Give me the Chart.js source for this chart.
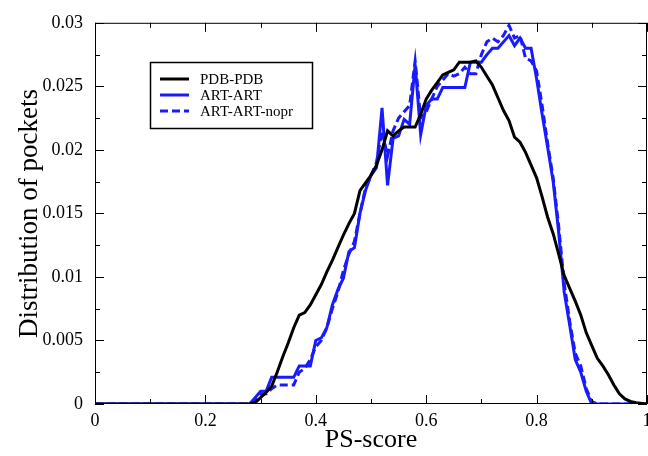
<!DOCTYPE html>
<html>
<head>
<meta charset="utf-8">
<script src="https://cdn.jsdelivr.net/npm/chart.js@4"></script>
<style>
  body { margin: 0; background: #fff; }
  #wrap { width: 648px; height: 456px; }
</style>
</head>
<body>
<div id="wrap"><canvas id="myChart"></canvas></div>
<script>
// data
const xs = [0, 0.28, 0.29, 0.30, 0.31, 0.32, 0.33, 0.34, 0.35, 0.36, 0.37, 0.38, 0.39,
  0.40, 0.41, 0.42, 0.43, 0.44, 0.45, 0.46, 0.47, 0.48, 0.49, 0.50, 0.51, 0.52, 0.53,
  0.54, 0.55, 0.56, 0.57, 0.58, 0.59, 0.60, 0.61, 0.62, 0.63, 0.64, 0.65, 0.66, 0.67,
  0.68, 0.69, 0.70, 0.71, 0.72, 0.73, 0.74, 0.75, 0.76, 0.77, 0.78, 0.79, 0.80, 0.81,
  0.82, 0.83, 0.84, 0.85, 0.86, 0.87, 0.88, 0.89, 0.90, 0.91, 0.92, 0.93, 0.94, 0.95,
  0.96, 0.97, 0.98, 1.0];

const pdbPdb = [0, 0, 0.0001, 0.0005, 0.0009, 0.0014, 0.0025, 0.0037, 0.0048, 0.0060,
  0.0070, 0.0072, 0.0078, 0.0086, 0.0094, 0.0104, 0.0113, 0.0123, 0.0133, 0.0142, 0.0150,
  0.0168, 0.0174, 0.0180, 0.0188, 0.0200, 0.0215, 0.0211, 0.0215, 0.0218, 0.0218, 0.0218,
  0.0228, 0.0240, 0.0247, 0.0253, 0.0259, 0.0261, 0.0263, 0.0269, 0.0269, 0.0269, 0.0270,
  0.0265, 0.0258, 0.0251, 0.0241, 0.0231, 0.0223, 0.0210, 0.0206, 0.0198, 0.0188, 0.0178,
  0.0163, 0.0147, 0.0134, 0.0118, 0.0101, 0.0091, 0.0081, 0.0070, 0.0056, 0.0046, 0.0036,
  0.0030, 0.0023, 0.0015, 0.0008, 0.0004, 0.0002, 0.0001, 0];

const artArt = [0, 0, 0.0005, 0.0010, 0.0010, 0.0021, 0.0021, 0.0021, 0.0021, 0.0021,
  0.0030, 0.0030, 0.0030, 0.0050, 0.0052, 0.0060, 0.0078, 0.0090, 0.0099, 0.0120, 0.0123,
  0.0150, 0.0168, 0.0180, 0.0186, 0.0233, 0.0172, 0.0209, 0.0211, 0.0224, 0.0220, 0.0267,
  0.0212, 0.0235, 0.0240, 0.0240, 0.0249, 0.0249, 0.0249, 0.0249, 0.0249, 0.0269, 0.0269,
  0.0269, 0.0275, 0.0280, 0.0280, 0.0285, 0.0290, 0.0282, 0.0288, 0.0280, 0.0280, 0.0256,
  0.0228, 0.0202, 0.0175, 0.0135, 0.0088, 0.0062, 0.0035, 0.0025, 0.0010, 0, 0,
  0, 0, 0, 0, 0, 0, 0, 0];

const artArtNopr = [0, 0, 0.0003, 0.0008, 0.0008, 0.0012, 0.0015, 0.0015, 0.0015, 0.0015,
  0.0025, 0.0028, 0.0035, 0.0045, 0.0050, 0.0060, 0.0075, 0.0088, 0.0105, 0.0118, 0.0128,
  0.0150, 0.0170, 0.0180, 0.0190, 0.0215, 0.0195, 0.0215, 0.0225, 0.0230, 0.0235, 0.0270,
  0.0225, 0.0230, 0.0240, 0.0250, 0.0255, 0.0260, 0.0258, 0.0260, 0.0265, 0.0260, 0.0260,
  0.0275, 0.0285, 0.0288, 0.0285, 0.0290, 0.0298, 0.0288, 0.0290, 0.0272, 0.0270, 0.0262,
  0.0235, 0.0205, 0.0178, 0.0140, 0.0095, 0.0065, 0.0040, 0.0030, 0.0012, 0.0002, 0,
  0, 0, 0, 0, 0, 0, 0, 0];

const seriesLabels = ['PDB-PDB', 'ART-ART', 'ART-ART-nopr'];

function pts(ys) {
  return xs.map((x, i) => ({ x: x, y: ys[i] }));
}

// 0.030 -> "0.03", 1.0 -> "1"
function fmt(v) {
  return String(parseFloat(v.toFixed(4)));
}

const serif = "'Liberation Serif', 'DejaVu Serif', serif";

// frame, inward ticks on all four sides, and the boxed legend
const framePlugin = {
  id: 'frame',
  afterDraw(chart) {
    const c = chart.ctx;
    const a = chart.chartArea;
    const sx = chart.scales.x, sy = chart.scales.y;
    c.save();
    c.strokeStyle = '#000';
    c.lineWidth = 1;
    c.strokeRect(a.left + 0.5, a.top + 0.5, a.right - a.left - 1, a.bottom - a.top - 1);
    c.beginPath();
    for (let i = 0; i <= 10; i++) {
      const px = Math.round(sx.getPixelForValue(i / 10)) + 0.5;
      const len = i % 2 === 0 ? 9 : 5;
      c.moveTo(px, a.bottom); c.lineTo(px, a.bottom - len);
      c.moveTo(px, a.top); c.lineTo(px, a.top + len);
    }
    for (let i = 0; i <= 12; i++) {
      const py = Math.round(sy.getPixelForValue(i * 0.0025)) + 0.5;
      const len = i % 2 === 0 ? 9 : 5;
      c.moveTo(a.left, py); c.lineTo(a.left + len, py);
      c.moveTo(a.right, py); c.lineTo(a.right - len, py);
    }
    c.stroke();

    // legend box
    c.lineWidth = 1.5;
    c.strokeRect(150.5, 62.5, 162, 66);
    c.font = '15px ' + serif;
    c.textBaseline = 'middle';
    chart.data.datasets.forEach((ds, i) => {
      const y = 79 + i * 16;
      c.beginPath();
      c.strokeStyle = ds.borderColor;
      c.lineWidth = 3;
      c.setLineDash(ds.borderDash || []);
      c.moveTo(160, y); c.lineTo(189, y);
      c.stroke();
      c.setLineDash([]);
      c.fillStyle = '#000';
      c.fillText(ds.label, 200, y + 1);
    });
    c.restore();
  }
};

const config = {
  type: 'line',
  data: {
    datasets: [{
      label: seriesLabels[0],
      data: pts(pdbPdb),
      borderColor: '#000000',
      borderWidth: 3
    },
    {
      label: seriesLabels[1],
      data: pts(artArt),
      borderColor: '#1a1aff',
      borderWidth: 3
    },
    {
      label: seriesLabels[2],
      data: pts(artArtNopr),
      borderColor: '#1a1aff',
      borderWidth: 3,
      borderDash: [8, 4]
    }]
  },
  options: {
    responsive: true,
    maintainAspectRatio: false,
    animation: false,
    elements: { point: { radius: 0 }, line: { tension: 0 } },
    layout: { padding: { top: 20, right: 1 } },
    plugins: { legend: { display: false }, tooltip: { enabled: false } },
    scales: {
      x: {
        type: 'linear',
        min: 0,
        max: 1,
        grid: { display: false, drawTicks: false },
        border: { display: false },
        ticks: {
          stepSize: 0.2,
          padding: 6,
          color: '#000',
          font: { family: serif, size: 18 },
          callback: fmt
        },
        title: {
          display: true,
          text: 'PS-score',
          color: '#000',
          padding: { top: 0, bottom: 0 },
          font: { family: serif, size: 26 }
        },
        afterFit(scale) {
          scale.height = 52;
          scale.paddingLeft = 0;
          scale.paddingRight = 0;
        }
      },
      y: {
        min: 0,
        max: 0.03,
        grid: { display: false, drawTicks: false },
        border: { display: false },
        ticks: {
          stepSize: 0.005,
          padding: 12,
          color: '#000',
          font: { family: serif, size: 18 },
          callback: fmt
        },
        title: {
          display: true,
          text: 'Distribution of pockets',
          color: '#000',
          padding: { top: 14, bottom: 0 },
          font: { family: serif, size: 27 }
        },
        afterFit(scale) { scale.width = 95; }
      }
    }
  },
  plugins: [framePlugin]
};

const myChart = new Chart(document.getElementById('myChart'), config);
</script>
</body>
</html>
